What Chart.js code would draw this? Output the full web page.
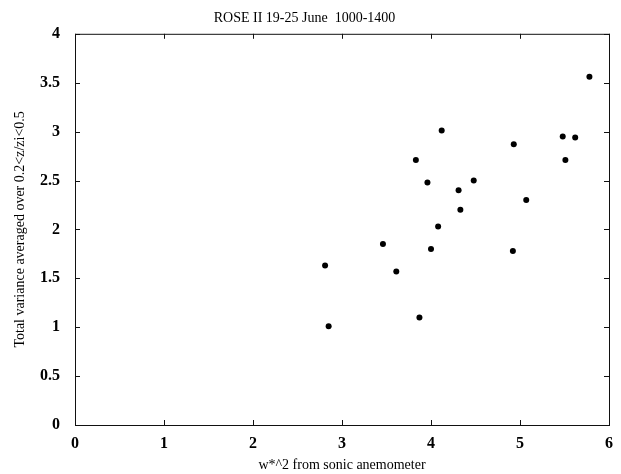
<!DOCTYPE html>
<html>
<head>
<meta charset="utf-8">
<script src="https://cdn.jsdelivr.net/npm/chart.js@4/dist/chart.umd.min.js"></script>
<style>
  html, body { margin: 0; padding: 0; background: #fff; }
  #wrap { width: 621px; height: 474px; }
</style>
</head>
<body>
<div id="wrap"><canvas id="rose" width="621" height="474"></canvas></div>
<script>
// w*^2 (x) vs total variance (y)
var wStar2 = [2.81, 2.85, 3.46, 3.61, 3.83, 3.87, 3.96, 4.00, 4.08, 4.12,
              4.31, 4.33, 4.48, 4.92, 4.93, 5.07, 5.48, 5.51, 5.62, 5.78];
var totalVar = [1.63, 1.01, 1.85, 1.57, 2.71, 1.10, 2.48, 1.80, 2.03, 3.01,
                2.40, 2.20, 2.50, 1.78, 2.87, 2.30, 2.95, 2.71, 2.94, 3.56];
var xTicks = [0, 1, 2, 3, 4, 5, 6];
var yTicks = [0, 0.5, 1, 1.5, 2, 2.5, 3, 3.5, 4];

var points = wStar2.map(function(x, i) { return {x: x, y: totalVar[i]} });
var serif = "'Liberation Serif', 'DejaVu Serif', serif";

// box round the plot and matlab style inward ticks on all four sides
var frame = {
  id: 'frame',
  afterDraw: function(chart) {
    var ctx = chart.ctx, a = chart.chartArea;
    var xs = chart.scales.x, ys = chart.scales.y;
    ctx.save();
    ctx.strokeStyle = '#111';
    ctx.lineWidth = 1;
    ctx.strokeRect(a.left + 0.5, a.top + 0.5, a.right - a.left, a.bottom - a.top);
    ctx.beginPath();
    xTicks.forEach(function(v) {
      var px = Math.round(xs.getPixelForValue(v)) + 0.5;
      ctx.moveTo(px, a.bottom); ctx.lineTo(px, a.bottom - 5);
      ctx.moveTo(px, a.top); ctx.lineTo(px, a.top + 5);
    });
    yTicks.forEach(function(v) {
      var py = Math.round(ys.getPixelForValue(v)) + 0.5;
      ctx.moveTo(a.left, py); ctx.lineTo(a.left + 5, py);
      ctx.moveTo(a.right, py); ctx.lineTo(a.right - 5, py);
    });
    ctx.stroke();
    ctx.restore();
  }
};

new Chart('rose', {
  type: 'scatter',
  data: {
    datasets: [{
      data: points,
      backgroundColor: '#000',
      borderColor: '#000',
      borderWidth: 0,
      pointRadius: 3,
      pointStyle: 'circle'
    }]
  },
  options: {
    responsive: false,
    animation: false,
    layout: { padding: { left: 0, right: 12, top: 0, bottom: 0 } },
    plugins: {
      legend: { display: false },
      tooltip: { enabled: false },
      title: {
        display: true,
        text: 'ROSE II 19-25 June  1000-1400',
        color: '#000',
        font: { family: serif, size: 14, weight: 'normal' },
        padding: { top: 10, bottom: 7 }
      }
    },
    scales: {
      x: {
        type: 'linear',
        min: 0, max: 6,
        afterBuildTicks: function(s) { s.ticks = xTicks.map(function(v) { return {value: v} }) },
        afterFit: function(s) { s.height = 49 },
        grid: { display: false },
        border: { display: false },
        ticks: {
          color: '#000', padding: 1,
          font: { family: serif, size: 16, weight: 'bold' },
          callback: function(v) { return String(v) }
        },
        title: {
          display: true,
          text: 'w*^2 from sonic anemometer',
          color: '#000',
          font: { family: serif, size: 14 },
          padding: { top: 0, bottom: 0 }
        }
      },
      y: {
        type: 'linear',
        min: 0, max: 4,
        afterBuildTicks: function(s) { s.ticks = yTicks.map(function(v) { return {value: v} }) },
        afterFit: function(s) { s.width = 75 },
        grid: { display: false },
        border: { display: false },
        ticks: {
          color: '#000', padding: 7,
          font: { family: serif, size: 16, weight: 'bold' },
          callback: function(v) { return String(v) }
        },
        title: {
          display: true,
          text: 'Total variance averaged over 0.2<z/zi<0.5',
          color: '#000',
          font: { family: serif, size: 14 },
          padding: { top: 12, bottom: 0 }
        }
      }
    }
  },
  plugins: [frame]
});
</script>
</body>
</html>
